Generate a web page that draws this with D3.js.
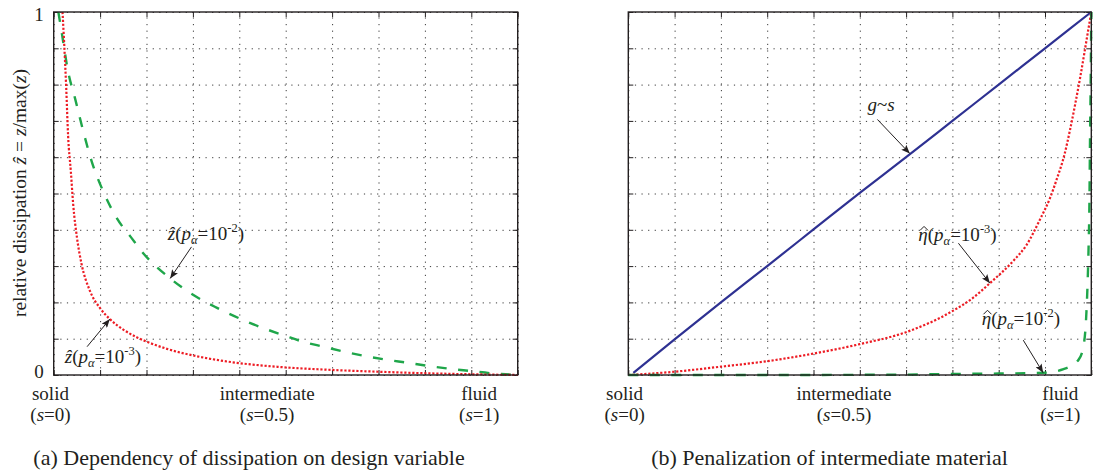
<!DOCTYPE html>
<html>
<head>
<meta charset="utf-8">
<script src="https://cdn.jsdelivr.net/npm/d3@7"></script>
<style>
  html, body { margin: 0; padding: 0; background: #fff; }
</style>
</head>
<body>
<svg id="fig" width="1112" height="472"></svg>
<script>
// ---------- data ----------
// grid positions of the design variable s and of the normalised quantity
const gridSteps = [0, 0.1, 0.2, 0.3, 0.4, 0.5, 0.6, 0.7, 0.8, 0.9, 1];
const yTickLabels = [{ v: 0, t: "0" }, { v: 1, t: "1" }];
const categoryNames = ["solid", "intermediate", "fluid"];
const categoryValues = ["0", "0.5", "1"];

// (a) relative dissipation  ẑ(s), p_alpha = 1e-2  (green dashed)
const dissP2 = [
  [0.010, 1.000], [0.017, 0.946], [0.031, 0.836], [0.046, 0.762], [0.064, 0.670],
  [0.082, 0.588], [0.107, 0.505], [0.136, 0.432], [0.168, 0.377], [0.190, 0.340],
  [0.251, 0.266], [0.294, 0.226], [0.352, 0.185], [0.424, 0.143], [0.503, 0.106],
  [0.531, 0.094], [0.581, 0.078], [0.624, 0.065], [0.672, 0.052], [0.718, 0.042],
  [0.761, 0.034], [0.807, 0.025], [0.855, 0.017], [0.898, 0.011], [0.941, 0.005],
  [1.000, 0.000]
];
// (a) relative dissipation  ẑ(s), p_alpha = 1e-3  (red dotted)
const dissP3 = [
  [0.019, 1.000], [0.022, 0.928], [0.027, 0.790], [0.031, 0.660], [0.037, 0.560],
  [0.042, 0.470], [0.050, 0.380], [0.060, 0.306], [0.078, 0.232], [0.100, 0.184],
  [0.121, 0.154], [0.150, 0.125], [0.179, 0.104], [0.204, 0.090], [0.244, 0.072],
  [0.315, 0.050], [0.386, 0.035], [0.488, 0.022], [0.599, 0.014], [0.700, 0.009],
  [0.796, 0.005], [0.900, 0.002], [1.000, 0.000]
];
// (b) linear reference g ~ s  (blue solid)
const linearG = [
  [0.011, 0.006], [0.100, 0.098], [0.200, 0.200], [0.300, 0.300], [0.400, 0.401],
  [0.500, 0.502], [0.600, 0.600], [0.700, 0.700], [0.800, 0.800], [0.900, 0.900],
  [1.000, 1.000]
];
// (b) penalisation η̂(s), p_alpha = 1e-3  (red dotted)
const etaP3 = [
  [0.000, 0.000], [0.100, 0.009], [0.200, 0.023], [0.300, 0.038], [0.400, 0.059],
  [0.500, 0.085], [0.600, 0.118], [0.700, 0.176], [0.745, 0.213], [0.781, 0.253],
  [0.832, 0.315], [0.860, 0.358], [0.889, 0.428], [0.911, 0.488], [0.925, 0.538],
  [0.943, 0.612], [0.954, 0.675], [0.976, 0.820], [0.994, 0.955], [1.000, 1.000]
];
// (b) penalisation η̂(s), p_alpha = 1e-2  (green dashed)
const etaP2 = [
  [0.000, 0.000], [0.300, 0.000], [0.600, 0.001], [0.700, 0.003], [0.800, 0.004],
  [0.896, 0.006], [0.940, 0.016], [0.972, 0.041], [0.983, 0.078], [0.989, 0.161],
  [0.992, 0.253], [0.994, 0.344], [0.996, 0.482], [0.997, 0.620], [0.999, 0.850],
  [1.000, 1.000]
];

// ---------- styling ----------
const FONT = '"Liberation Serif"';
const INK = "#231f20";
const RED = "#ed1c24";
const GREEN = "#1fa64a";
const BLUE = "#2e3192";

const panels = [
  {
    x: 53.7, y: 12, w: 464, h: 363,
    catPos: [-0.007, 0.46, 0.917],
    captionX: 249,
    yLabels: true,
    caption: "(a) Dependency of dissipation on design variable",
    series: [
      { data: dissP2, color: GREEN, width: 2.4, dash: "10,11.5" },
      { data: dissP3, color: RED, width: 2.2, dash: "2.2,1.8" }
    ],
    notes: [
      { parts: "z2", at: [0.328, 0.372], tail: [0.297, 0.353], tip: [0.251, 0.266] },
      { parts: "z3", at: [0.106, 0.033], tail: [0.072, 0.078], tip: [0.121, 0.154] }
    ]
  },
  {
    x: 628.3, y: 12, w: 463, h: 363,
    catPos: [-0.008, 0.466, 0.933],
    captionX: 829.5,
    yLabels: false,
    caption: "(b) Penalization of intermediate material",
    series: [
      { data: linearG, color: BLUE, width: 2.2, dash: null },
      { data: etaP3, color: RED, width: 2.2, dash: "2.2,1.8" },
      { data: etaP2, color: GREEN, width: 2.4, dash: "10,11.5" }
    ],
    notes: [
      { parts: "g", at: [0.546, 0.727], tail: [0.538, 0.704], tip: [0.608, 0.610] },
      { parts: "e3", at: [0.711, 0.369], tail: [0.713, 0.363], tip: [0.781, 0.253] },
      { parts: "e2", at: [0.848, 0.138], tail: [0.853, 0.096], tip: [0.896, 0.006] }
    ]
  }
];

const noteTexts = {
  z2: [{ t: "ẑ", i: 1 }, { t: "(" }, { t: "p", i: 1 }, { t: "α", i: 1, sub: 1 }, { t: "=10" }, { t: "-2", sup: 1 }, { t: ")" }],
  z3: [{ t: "ẑ", i: 1 }, { t: "(" }, { t: "p", i: 1 }, { t: "α", i: 1, sub: 1 }, { t: "=10" }, { t: "-3", sup: 1 }, { t: ")" }],
  g:  [{ t: "g", i: 1 }, { t: "~" }, { t: "s", i: 1 }],
  e3: [{ t: "η", i: 1, hat: 1 }, { t: "(" }, { t: "p", i: 1 }, { t: "α", i: 1, sub: 1 }, { t: "=10" }, { t: "-3", sup: 1 }, { t: ")" }],
  e2: [{ t: "η", i: 1, hat: 1 }, { t: "(" }, { t: "p", i: 1 }, { t: "α", i: 1, sub: 1 }, { t: "=10" }, { t: "-2", sup: 1 }, { t: ")" }]
};

const svg = d3.select("#fig").style("font-family", FONT);

svg.append("defs").append("marker")
  .attr("id", "head")
  .attr("viewBox", "0 0 10 8")
  .attr("refX", 10).attr("refY", 4)
  .attr("markerWidth", 10).attr("markerHeight", 7)
  .attr("markerUnits", "userSpaceOnUse")
  .attr("orient", "auto")
  .append("path").attr("d", "M0,0 L10,4 L0,8 L2,4 Z").attr("fill", INK);

function plainText(sel, x, y, str, size, anchor) {
  return sel.append("text")
    .attr("x", x).attr("y", y)
    .style("font-family", FONT)
    .attr("font-size", size)
    .attr("text-anchor", anchor || "middle")
    .attr("fill", INK)
    .text(str);
}

// text made of upright / italic / sub / superscript runs; a run with `hat`
// gets a circumflex drawn above it
function richText(sel, x, y, parts, size, anchor) {
  const t = sel.append("text")
    .attr("x", x).attr("y", y)
    .style("font-family", FONT)
    .attr("font-size", size)
    .attr("text-anchor", anchor || "middle")
    .attr("fill", INK);
  let cur = 0;
  const hats = [];
  parts.forEach(p => {
    const shift = p.sup ? -0.42 * size : (p.sub ? 0.22 * size : 0);
    const ts = t.append("tspan").attr("dy", shift - cur).text(p.t);
    if (p.i) ts.style("font-style", "italic");
    if (p.sup || p.sub) ts.attr("font-size", size * 0.66);
    if (p.hat) hats.push(ts);
    cur = shift;
  });
  hats.forEach(ts => {
    const b = ts.node().getBBox();
    const cx = b.x + b.width / 2 + 1, top = y - size * 0.56;
    sel.append("path")
      .attr("d", `M${cx - 4},${top} L${cx},${top - 4} L${cx + 4},${top}`)
      .attr("fill", "none").attr("stroke", INK).attr("stroke-width", 1);
  });
  return t;
}

panels.forEach(P => {
  const x = d3.scaleLinear().domain([0, 1]).range([P.x, P.x + P.w]);
  const y = d3.scaleLinear().domain([0, 1]).range([P.y + P.h, P.y]);
  const g = svg.append("g");

  // dotted grid
  const gridStyle = a => a.call(s => s.select(".domain").remove())
    .selectAll("line").attr("stroke", "#3a3a3a").attr("stroke-width", 1).attr("stroke-dasharray", "1.2,5.4");
  g.append("g").attr("transform", `translate(0,${P.y + P.h})`)
    .call(d3.axisBottom(x).tickValues(gridSteps).tickSize(-P.h).tickFormat("")).call(gridStyle);
  g.append("g").attr("transform", `translate(${P.x},0)`)
    .call(d3.axisLeft(y).tickValues(gridSteps).tickSize(-P.w).tickFormat("")).call(gridStyle);

  // inward ticks on all four sides
  const tk = 5;
  const tickStyle = a => a.call(s => s.select(".domain").remove())
    .selectAll("line").attr("stroke", INK).attr("stroke-width", 1);
  g.append("g").attr("transform", `translate(0,${P.y + P.h})`)
    .call(d3.axisBottom(x).tickValues(gridSteps).tickSize(-tk).tickFormat("")).call(tickStyle);
  g.append("g").attr("transform", `translate(0,${P.y})`)
    .call(d3.axisTop(x).tickValues(gridSteps).tickSize(-tk).tickFormat("")).call(tickStyle);
  g.append("g").attr("transform", `translate(${P.x},0)`)
    .call(d3.axisLeft(y).tickValues(gridSteps).tickSize(-tk).tickFormat("")).call(tickStyle);
  g.append("g").attr("transform", `translate(${P.x + P.w},0)`)
    .call(d3.axisRight(y).tickValues(gridSteps).tickSize(-tk).tickFormat("")).call(tickStyle);

  // curves
  const line = d3.line().x(d => x(d[0])).y(d => y(d[1])).curve(d3.curveMonotoneX);
  P.series.forEach(s => {
    g.append("path").datum(s.data)
      .attr("d", line)
      .attr("fill", "none")
      .attr("stroke", s.color)
      .attr("stroke-width", s.width)
      .attr("stroke-dasharray", s.dash)
      .attr("stroke-linejoin", "round");
  });

  // frame
  g.append("rect").attr("x", P.x).attr("y", P.y).attr("width", P.w).attr("height", P.h)
    .attr("fill", "none").attr("stroke", INK).attr("stroke-width", 1.4);

  // annotations
  P.notes.forEach(n => {
    g.append("line")
      .attr("x1", x(n.tail[0])).attr("y1", y(n.tail[1]))
      .attr("x2", x(n.tip[0])).attr("y2", y(n.tip[1]))
      .attr("stroke", INK).attr("stroke-width", 1)
      .attr("marker-end", "url(#head)");
    richText(g, x(n.at[0]), y(n.at[1]), noteTexts[n.parts], 19, "middle");
  });

  // y tick labels
  if (P.yLabels) {
    yTickLabels.forEach(d => {
      plainText(g, P.x - 10, y(d.v) + (d.v === 1 ? 8.5 : 3), d.t, 19, "end");
    });
  }

  // category labels under the axis
  categoryNames.forEach((name, i) => {
    const cx = x(P.catPos[i]);
    plainText(g, cx, P.y + P.h + 25, name, 19, "middle");
    richText(g, cx, P.y + P.h + 46,
      [{ t: "(" }, { t: "s", i: 1 }, { t: "=" + categoryValues[i] + ")" }], 19, "middle");
  });

  // caption
  plainText(g, P.captionX, 465, P.caption, 22, "middle");
});

// y-axis title of panel (a)
const yt = svg.append("g").attr("transform", "translate(25.5,193) rotate(-90)");
richText(yt, 0, 0, [
  { t: "relative dissipation " }, { t: "ẑ", i: 1 }, { t: " = " },
  { t: "z", i: 1 }, { t: "/max(" }, { t: "z", i: 1 }, { t: ")" }
], 19.5, "middle");
</script>
</body>
</html>
